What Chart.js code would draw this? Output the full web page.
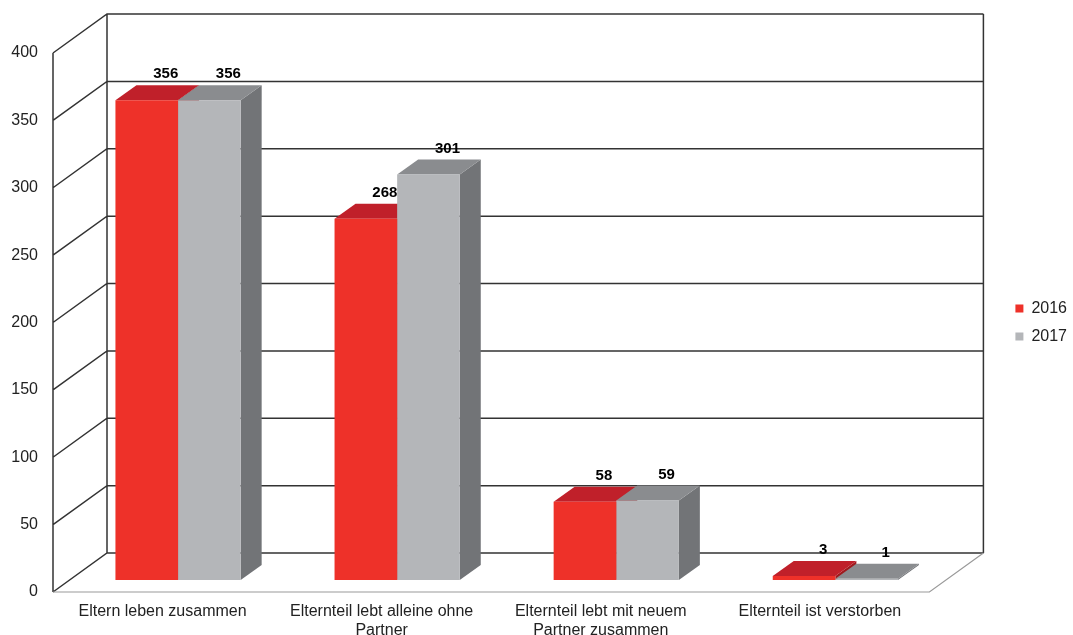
<!DOCTYPE html>
<html>
<head>
<meta charset="utf-8">
<script src="https://cdn.jsdelivr.net/npm/chart.js@4/dist/chart.umd.min.js"></script>
<style>
html,body{margin:0;padding:0;background:#fff;}
#wrap{width:1073px;height:635px;position:relative;}
</style>
</head>
<body>
<div id="wrap"><canvas id="chart"></canvas></div>
<script>
const categories=[["Eltern leben zusammen"],["Elternteil lebt alleine ohne","Partner"],["Elternteil lebt mit neuem","Partner zusammen"],["Elternteil ist verstorben"]];
const years=["2016","2017"];
const values2016=[356,268,58,3];
const values2017=[356,301,59,1];
const yMin=0,yMax=400,yStep=50;

const frontColors=["#ee3129","#b4b6b9"];
const topColors=["#c0202a","#8a8c8f"];
const sideColors=["#9e1a1e","#727477"];
const wallDX=54,wallDY=-39;        // depth of floor and side wall
const barShiftX=15.5,barShiftY=-12; // bars stand a bit behind the front edge
const barDX=21,barDY=-15;           // depth of one bar

Chart.defaults.font.family="'Liberation Sans', Arial, sans-serif";

function poly(ctx,pts,color){
    ctx.fillStyle=color;
    ctx.beginPath();
    ctx.moveTo(pts[0][0],pts[0][1]);
    for(let k=1;k<pts.length;k++) ctx.lineTo(pts[k][0],pts[k][1]);
    ctx.closePath();
    ctx.fill();
}

const box3d={
    id:"box3d",
    beforeDatasetsDraw(chart){
        const {ctx,chartArea:a,scales:{y}}=chart;
        ctx.save();
        ctx.lineWidth=1.5;
        ctx.strokeStyle="#333";
        ctx.beginPath();
        y.ticks.forEach(t=>{
            const py=y.getPixelForValue(t.value);
            ctx.moveTo(a.left,py);
            ctx.lineTo(a.left+wallDX,py+wallDY);
            ctx.lineTo(a.right+wallDX,py+wallDY);
        });
        ctx.moveTo(a.left,a.top); ctx.lineTo(a.left,a.bottom);
        ctx.moveTo(a.left+wallDX,a.top+wallDY); ctx.lineTo(a.left+wallDX,a.bottom+wallDY);
        ctx.moveTo(a.right+wallDX,a.top+wallDY); ctx.lineTo(a.right+wallDX,a.bottom+wallDY);
        ctx.stroke();
        ctx.strokeStyle="#999";
        ctx.lineWidth=1.2;
        ctx.beginPath();
        ctx.moveTo(a.left,a.bottom); ctx.lineTo(a.right,a.bottom); ctx.lineTo(a.right+wallDX,a.bottom+wallDY);
        ctx.stroke();
        ctx.restore();
        // shift the bars back, restored in afterDatasetsDraw
        ctx.save();
        ctx.translate(barShiftX,barShiftY);
        // side and top faces first (left bar to right bar), the fronts drawn by the chart cover them
        chart.data.datasets.forEach((ds,i)=>{
            chart.getDatasetMeta(i).data.forEach(bar=>{
                const {x,y,base,width}=bar.getProps(["x","y","base","width"],true);
                const l=x-width/2,r=x+width/2;
                poly(ctx,[[r,y],[r+barDX,y+barDY],[r+barDX,base+barDY],[r,base]],sideColors[i]);
                poly(ctx,[[l,y],[r,y],[r+barDX,y+barDY],[l+barDX,y+barDY]],topColors[i]);
            });
        });
    },
    afterDatasetsDraw(chart){
        const ctx=chart.ctx;
        ctx.font="bold 15px 'Liberation Sans', Arial, sans-serif";
        ctx.fillStyle="#000";
        ctx.textAlign="center";
        ctx.textBaseline="middle";
        chart.data.datasets.forEach((ds,i)=>{
            chart.getDatasetMeta(i).data.forEach((bar,j)=>{
                const {x,y}=bar.getProps(["x","y"],true);
                ctx.fillText(ds.data[j],x+barDX-2,y+barDY-11);
            });
        });
        ctx.restore();
    }
};

new Chart(document.getElementById("chart"),{
    type:"bar",
    data:{
        labels:categories,
        datasets:[
            {label:years[0],data:values2016,backgroundColor:frontColors[0],categoryPercentage:0.5715,barPercentage:1},
            {label:years[1],data:values2017,backgroundColor:frontColors[1],categoryPercentage:0.5715,barPercentage:1}
        ]
    },
    options:{
        responsive:true,
        maintainAspectRatio:false,
        animation:false,
        events:[],
        devicePixelRatio:1,
        layout:{padding:{top:53,right:-4,bottom:0,left:0}},
        plugins:{
            tooltip:{enabled:false},
            legend:{
                position:"right",
                fullSize:false,
                labels:{boxWidth:8,boxHeight:8,padding:12,color:"#222",font:{size:16}}
            }
        },
        scales:{
            x:{
                grid:{display:false,drawTicks:false},
                border:{display:false},
                ticks:{color:"#222",font:{size:16},padding:10,maxRotation:0,autoSkip:false},
                afterFit(s){s.height=43;}
            },
            y:{
                min:yMin,max:yMax,
                grid:{display:false,drawTicks:false},
                border:{display:false},
                ticks:{stepSize:yStep,color:"#222",font:{size:16},padding:15},
                afterFit(s){s.width=53;}
            },
            gap:{
                type:"linear",position:"right",display:true,
                grid:{display:false,drawTicks:false},
                border:{display:false},
                ticks:{display:false},
                afterFit(s){s.width=74;}
            }
        }
    },
    plugins:[box3d]
});
</script>
</body>
</html>
